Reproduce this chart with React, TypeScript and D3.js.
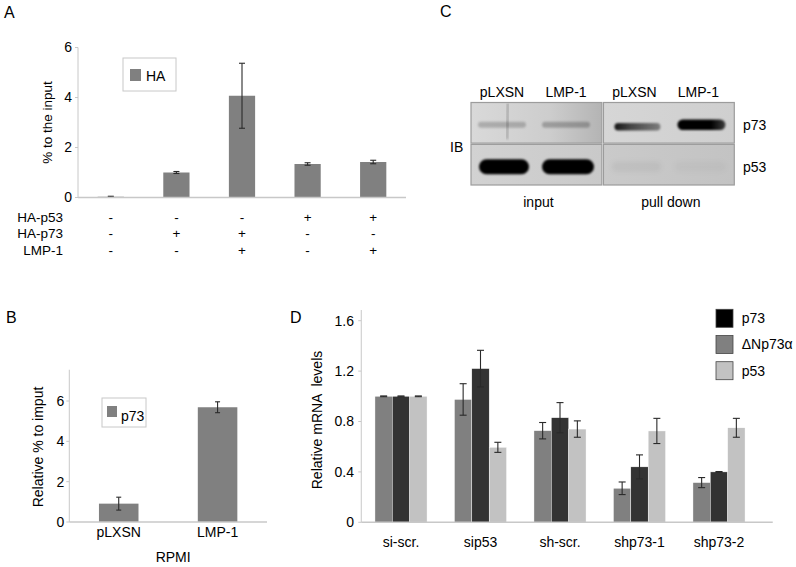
import React from "react";
import * as d3 from "d3";

const FONT = "'Liberation Sans', Arial, Helvetica, sans-serif";

// ---------- Panel A data ----------
const aConditions = ["c1", "c2", "c3", "c4", "c5"];
const aValues = [0.03, 1.0, 4.07, 1.34, 1.42];
const aErrors = [0.02, 0.04, 1.3, 0.05, 0.07];
const aTicks = [0, 2, 4, 6];
const aRowLabels = ["HA-p53", "HA-p73", "LMP-1"];
const aRowHAp53 = ["-", "-", "-", "+", "+"];
const aRowHAp73 = ["-", "+", "+", "-", "-"];
const aRowLMP1 = ["-", "-", "+", "-", "+"];
const aLegend = ["HA"];
const aTitle = "% to the input";

// ---------- Panel B data ----------
const bCategories = ["pLXSN", "LMP-1"];
const bValues = [0.91, 5.69];
const bErrors = [0.32, 0.27];
const bTicks = [0, 2, 4, 6];
const bLegend = ["p73"];
const bTitle = "Relative % to imput";
const bXTitle = "RPMI";

// ---------- Panel C data ----------
const cLanes = ["pLXSN", "LMP-1"];
const cSections = ["input", "pull down"];
const cRows = ["p73", "p53"];
// intensity [section][lane]
const cP73Intensity = [
  [0.2, 0.24],
  [0.9, 1.0],
];
const cP53Intensity = [
  [1.0, 1.0],
  [0.05, 0.03],
];

// ---------- Panel D data ----------
const dGroups = ["si-scr.", "sip53", "sh-scr.", "shp73-1", "shp73-2"];
const dSeries = ["ΔNp73α", "p73", "p53"];
const dDeltaNp73 = [1.0, 0.975, 0.727, 0.27, 0.315];
const dDeltaNp73Err = [0.003, 0.125, 0.065, 0.05, 0.04];
const dP73 = [1.0, 1.22, 0.83, 0.44, 0.4];
const dP73Err = [0.003, 0.145, 0.12, 0.095, 0.003];
const dP53 = [1.0, 0.595, 0.74, 0.725, 0.75];
const dP53Err = [0.003, 0.04, 0.065, 0.1, 0.075];
const dTicks = [0, 0.4, 0.8, 1.2, 1.6];
const dLegendOrder = ["p73", "ΔNp73α", "p53"];
const dTitle = "Relative mRNA  levels";

const GRAY = "#808080";
const DARK = "#333333";
const LIGHT = "#c2c2c2";
const AXIS = "#c8c8c8";
const ERR = "#2a2a2a";

function ErrorBar({ x, y0, y1, cap }: { x: number; y0: number; y1: number; cap: number }) {
  return (
    <g stroke={ERR} strokeWidth={1.1}>
      <line x1={x} x2={x} y1={y0} y2={y1} />
      <line x1={x - cap / 2} x2={x + cap / 2} y1={y0} y2={y0} />
      <line x1={x - cap / 2} x2={x + cap / 2} y1={y1} y2={y1} />
    </g>
  );
}

function PanelA() {
  const x = d3.scaleBand<string>().domain(aConditions).range([78, 406]).paddingInner(0.6).paddingOuter(0.3);
  const y = d3.scaleLinear().domain([0, 6]).range([197.5, 47.5]);
  const rows = [aRowHAp53, aRowHAp73, aRowLMP1];
  const rowY = d3.scalePoint<string>().domain(aRowLabels).range([217, 250]);
  return (
    <g fontFamily={FONT}>
      <text x={4} y={17.5} fontSize={16}>A</text>
      <line x1={x.range()[0]} x2={x.range()[0]} y1={y(6)} y2={y(0)} stroke={AXIS} />
      {aTicks.map((t) => (
        <g key={t}>
          <line x1={x.range()[0] - 3} x2={x.range()[0]} y1={y(t)} y2={y(t)} stroke={AXIS} />
          <text x={x.range()[0] - 6} y={y(t)} dy="0.35em" textAnchor="end" fontSize={14}>{t}</text>
        </g>
      ))}
      {aConditions.map((c, i) => (
        <g key={c}>
          <rect x={x(c)} y={y(aValues[i])} width={x.bandwidth()} height={y(0) - y(aValues[i])} fill={GRAY} />
          <ErrorBar x={x(c)! + x.bandwidth() / 2} y0={y(aValues[i] + aErrors[i])} y1={y(aValues[i] - aErrors[i])} cap={6} />
        </g>
      ))}
      <line x1={x.range()[0]} x2={x.range()[1]} y1={y(0)} y2={y(0)} stroke={AXIS} strokeWidth={1.5} />
      <text transform={`translate(47,${(y(0) + y(6)) / 2 + 0}) rotate(-90)`} dy="0.35em" textAnchor="middle" fontSize={13.5}>
        {aTitle}
      </text>
      <rect x={123} y={58} width={53} height={33} fill="white" stroke={AXIS} />
      <rect x={130} y={69} width={11} height={12} fill={GRAY} />
      <text x={146} y={80.5} fontSize={14}>{aLegend[0]}</text>
      {aRowLabels.map((lab, r) => (
        <g key={lab}>
          <text x={63} y={rowY(lab)} dy="0.35em" textAnchor="end" fontSize={13.5}>{lab}</text>
          {rows[r].map((s, i) => (
            <text key={i} x={x(aConditions[i])! + x.bandwidth() / 2} y={rowY(lab)} dy="0.35em" textAnchor="middle" fontSize={13.5}>
              {s}
            </text>
          ))}
        </g>
      ))}
    </g>
  );
}

function PanelB() {
  const x = d3.scaleBand<string>().domain(bCategories).range([69.3, 267]).paddingInner(0.6).paddingOuter(0.3);
  const y = d3.scaleLinear().domain([0, 6]).range([522, 401]);
  return (
    <g fontFamily={FONT}>
      <text x={6} y={322.5} fontSize={16}>B</text>
      <line x1={x.range()[0]} x2={x.range()[0]} y1={y(7.55)} y2={y(0)} stroke={AXIS} />
      {bTicks.map((t) => (
        <g key={t}>
          <line x1={x.range()[0] - 3} x2={x.range()[0]} y1={y(t)} y2={y(t)} stroke={AXIS} />
          <text x={x.range()[0] - 5} y={y(t)} dy="0.35em" textAnchor="end" fontSize={14}>{t}</text>
        </g>
      ))}
      {bCategories.map((c, i) => (
        <g key={c}>
          <rect x={x(c)} y={y(bValues[i])} width={x.bandwidth()} height={y(0) - y(bValues[i])} fill={GRAY} />
          <ErrorBar x={x(c)! + x.bandwidth() / 2} y0={y(bValues[i] + bErrors[i])} y1={y(bValues[i] - bErrors[i])} cap={5} />
          <text x={x(c)! + x.bandwidth() / 2} y={537} textAnchor="middle" fontSize={14}>{c}</text>
        </g>
      ))}
      <line x1={x.range()[0]} x2={x.range()[1]} y1={y(0)} y2={y(0)} stroke={AXIS} strokeWidth={1.5} />
      <text transform={`translate(38,447) rotate(-90)`} dy="0.35em" textAnchor="middle" fontSize={14}>{bTitle}</text>
      <text x={(x.range()[0] + x.range()[1]) / 2 + 5} y={562} textAnchor="middle" fontSize={14}>{bXTitle}</text>
      <rect x={102} y={398} width={44} height={29} fill="white" stroke={AXIS} />
      <rect x={107} y={406} width={10} height={11} fill={GRAY} />
      <text x={121} y={421} fontSize={14}>{bLegend[0]}</text>
    </g>
  );
}

function PanelC() {
  const xs = d3.scaleBand<string>().domain(cSections).range([471, 734.3]).paddingInner(0.012);
  const lane = d3.scalePoint<string>().domain(cLanes).range([31, 95]);
  const ys = d3.scaleBand<string>().domain(cRows).range([102.5, 185]).paddingInner(0.03);
  const bg = [
    ["bgTL", "bgTR"],
    ["bgBL", "bgBR"],
  ];
  const intens = [cP73Intensity, cP53Intensity];
  return (
    <g fontFamily={FONT}>
      <defs>
        <filter id="blur1" x="-30%" y="-80%" width="160%" height="260%">
          <feGaussianBlur stdDeviation="1.3" />
        </filter>
        <filter id="blur3" x="-50%" y="-50%" width="200%" height="200%">
          <feGaussianBlur stdDeviation="2.5" />
        </filter>
        <linearGradient id="bgTL" x1="0" x2="1">
          <stop offset="0" stopColor="#d9d9d9" />
          <stop offset="0.6" stopColor="#cdcdcd" />
          <stop offset="1" stopColor="#b4b4b4" />
        </linearGradient>
        <linearGradient id="bgTR" x1="0" x2="1">
          <stop offset="0" stopColor="#d6d6d6" />
          <stop offset="1" stopColor="#cfcfcf" />
        </linearGradient>
        <linearGradient id="bgBL" x1="0" x2="1">
          <stop offset="0" stopColor="#d2d2d2" />
          <stop offset="1" stopColor="#c9c9c9" />
        </linearGradient>
        <linearGradient id="bgBR" x1="0" x2="1">
          <stop offset="0" stopColor="#cacaca" />
          <stop offset="1" stopColor="#c3c3c3" />
        </linearGradient>
        <linearGradient id="taper" x1="0" x2="1">
          <stop offset="0" stopColor="#000" stopOpacity="1" />
          <stop offset="0.35" stopColor="#000" stopOpacity="0.75" />
          <stop offset="1" stopColor="#000" stopOpacity="0.45" />
        </linearGradient>
        <linearGradient id="taper2" x1="0" x2="1">
          <stop offset="0" stopColor="#000" stopOpacity="1" />
          <stop offset="0.7" stopColor="#000" stopOpacity="1" />
          <stop offset="1" stopColor="#000" stopOpacity="0.7" />
        </linearGradient>
      </defs>
      <text x={440} y={16.5} fontSize={16}>C</text>
      {cRows.map((r, ri) =>
        cSections.map((s, si) => {
          const x0 = xs(s)!;
          const y0 = ys(r)!;
          const w = xs.bandwidth();
          const h = ys.bandwidth();
          const cy = y0 + h / 2 + 2;
          return (
            <g key={r + s}>
              <rect x={x0} y={y0} width={w} height={h} fill={`url(#${bg[ri][si]})`} stroke="#9c9c9c" strokeWidth={1.2} />
              <clipPath id={`clip-${ri}-${si}`}>
                <rect x={x0 + 1} y={y0 + 1} width={w - 2} height={h - 2} />
              </clipPath>
              <g clipPath={`url(#clip-${ri}-${si})`}>
                {ri === 0 && si === 0 && (
                  <line x1={x0 + lane("pLXSN")! + 6} x2={x0 + lane("pLXSN")! + 5} y1={y0} y2={y0 + h - 4} stroke="#777" strokeWidth={2.5} opacity={0.45} filter="url(#blur1)" />
                )}
                {cLanes.map((l, li) => {
                  const it = intens[ri][si][li];
                  const cx = x0 + lane(l)!;
                  if (ri === 1) {
                    const bw = 50 * (li === 0 ? 1 : 1.04);
                    const bh = it > 0.5 ? 15 : 10;
                    return (
                      <rect key={l} x={cx - bw / 2 + 2} y={cy - bh / 2} width={bw} height={bh} rx={bh / 2} fill="#000" fillOpacity={it} filter={it > 0.5 ? "url(#blur1)" : "url(#blur3)"} />
                    );
                  }
                  if (si === 1) {
                    const bw = li === 0 ? 46 : 48;
                    const bh = li === 0 ? 7.5 : 10.5;
                    return (
                      <rect key={l} x={cx - bw / 2 + 3} y={cy - bh / 2 + (li === 0 ? 2 : 0)} width={bw} height={bh} rx={bh / 2} fill={li === 0 ? "url(#taper)" : "url(#taper2)"} fillOpacity={it} filter="url(#blur1)" />
                    );
                  }
                  return (
                    <rect key={l} x={cx - 24} y={cy - 3} width={48} height={6} rx={3} fill="#000" fillOpacity={it} filter="url(#blur1)" />
                  );
                })}
              </g>
            </g>
          );
        })
      )}
      {cSections.map((s) =>
        cLanes.map((l) => (
          <text key={s + l} x={xs(s)! + lane(l)!} y={96.5} textAnchor="middle" fontSize={14}>{l}</text>
        ))
      )}
      {cSections.map((s) => (
        <text key={s} x={xs(s)! + xs.bandwidth() / 2 + 2} y={206.5} textAnchor="middle" fontSize={14}>{s}</text>
      ))}
      {cRows.map((r) => (
        <text key={r} x={743} y={ys(r)! + ys.bandwidth() / 2 + 2} dy="0.35em" fontSize={14}>{r}</text>
      ))}
      <text x={450} y={146.7} dy="0.35em" fontSize={14}>IB</text>
    </g>
  );
}

function PanelD() {
  const x0 = d3.scaleBand<string>().domain(dGroups).range([361.25, 758.75]).paddingInner(0.345).paddingOuter(0.1725);
  const x1 = d3.scaleBand<string>().domain(dSeries).range([0, x0.bandwidth()]);
  const y = d3.scaleLinear().domain([0, 1.6]).range([522.3, 320.7]);
  const vals: Record<string, number[]> = { "ΔNp73α": dDeltaNp73, p73: dP73, p53: dP53 };
  const errs: Record<string, number[]> = { "ΔNp73α": dDeltaNp73Err, p73: dP73Err, p53: dP53Err };
  const color: Record<string, string> = { "ΔNp73α": GRAY, p73: DARK, p53: LIGHT };
  const legendColor: Record<string, string> = { "ΔNp73α": GRAY, p73: "#000", p53: LIGHT };
  const ly = d3.scalePoint<string>().domain(dLegendOrder).range([309.3, 361.7]);
  return (
    <g fontFamily={FONT}>
      <text x={290} y={322.5} fontSize={16}>D</text>
      <line x1={x0.range()[0]} x2={x0.range()[0]} y1={y(1.685)} y2={y(0)} stroke={AXIS} />
      {dTicks.map((t) => (
        <g key={t}>
          <line x1={x0.range()[0] - 3} x2={x0.range()[0]} y1={y(t)} y2={y(t)} stroke={AXIS} />
          <text x={354} y={y(t)} dy="0.35em" textAnchor="end" fontSize={14}>{t === 0 ? "0" : t.toFixed(1)}</text>
        </g>
      ))}
      {dGroups.map((g, gi) => (
        <g key={g}>
          {dSeries.map((s) => {
            const v = vals[s][gi];
            const bx = x0(g)! + x1(s)!;
            return (
              <rect key={s} x={bx} y={y(v)} width={x1.bandwidth()} height={y(0) - y(v)} fill={color[s]} stroke="white" strokeWidth={0.4} />
            );
          })}
          {dSeries.map((s) => {
            const v = vals[s][gi];
            const e = errs[s][gi];
            const bx = x0(g)! + x1(s)! + x1.bandwidth() / 2;
            return <ErrorBar key={s} x={bx} y0={y(v + e)} y1={y(v - e)} cap={7} />;
          })}
          <text x={x0(g)! + x0.bandwidth() / 2} y={546.5} textAnchor="middle" fontSize={14}>{g}</text>
        </g>
      ))}
      <line x1={x0.range()[0]} x2={x0.range()[1] + 14} y1={y(0)} y2={y(0)} stroke={AXIS} strokeWidth={1.5} />
      <text transform={`translate(316.7,420) rotate(-90)`} dy="0.35em" textAnchor="middle" fontSize={14} style={{ whiteSpace: "pre" }}>
        {dTitle}
      </text>
      {dLegendOrder.map((s) => (
        <g key={s}>
          <rect x={716} y={ly(s)} width={17} height={18} fill={legendColor[s]} stroke="#444" strokeWidth={0.8} />
          <text x={741.7} y={ly(s)! + 9} dy="0.35em" fontSize={14}>{s}</text>
        </g>
      ))}
    </g>
  );
}

export default function App() {
  return (
    <svg width={796} height={567} viewBox="0 0 796 567" style={{ position: "absolute", left: 0, top: 0, background: "white" }}>
      <rect width={796} height={567} fill="white" />
      <PanelA />
      <PanelB />
      <PanelC />
      <PanelD />
    </svg>
  );
}
